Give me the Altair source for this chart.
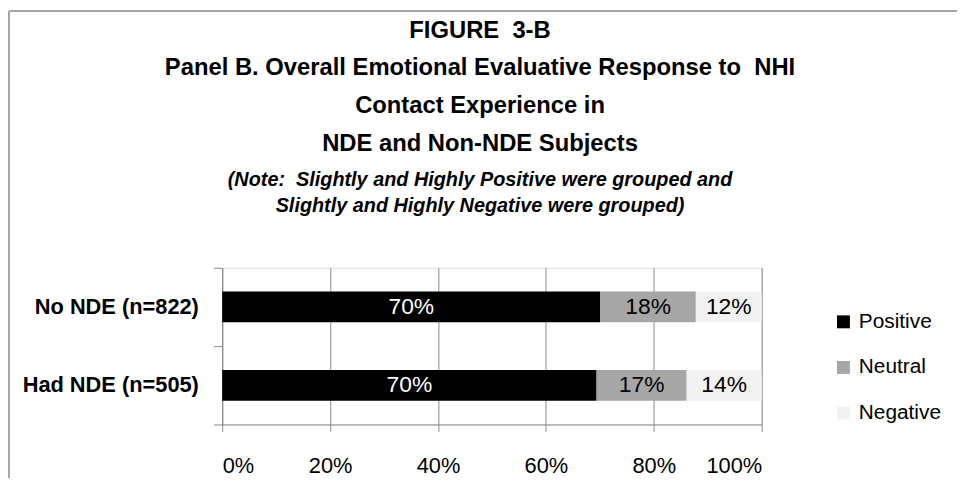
import altair as alt
import pandas as pd

# ---- data ----
groups = ["No NDE (n=822)", "Had NDE (n=505)"]
responses = ["Positive", "Neutral", "Negative"]
no_nde_values = [70.1, 17.7, 12.2]
had_nde_values = [69.4, 16.7, 13.9]
no_nde_labels = ["70%", "18%", "12%"]
had_nde_labels = ["70%", "17%", "14%"]
x_ticks = [0, 20, 40, 60, 80, 100]
colors = ["#000000", "#a6a6a6", "#f2f2f2"]

title_lines = [
    "FIGURE\u00a0 3-B",
    "Panel B. Overall Emotional Evaluative Response to\u00a0 NHI",
    "Contact Experience in",
    "NDE and Non-NDE Subjects",
]
note_lines = [
    "(Note:\u00a0 Slightly and Highly Positive were grouped and",
    "Slightly and Highly Negative were grouped)",
]

rows = []
for g, vals, labs in [(groups[0], no_nde_values, no_nde_labels),
                      (groups[1], had_nde_values, had_nde_labels)]:
    for i, (r, v, l) in enumerate(zip(responses, vals, labs)):
        rows.append({"group": g, "response": r, "value": v, "label": l, "order": i})
df = pd.DataFrame(rows)

FONT = "Liberation Sans"
GRID = "#8a8a8a"

base = alt.Chart(df).transform_stack(
    stack="value", as_=["v0", "v1"], groupby=["group"],
    sort=[alt.SortField("order", order="ascending")],
).transform_calculate(mid="(datum.v0 + datum.v1) / 2")

x_axis = alt.Axis(
    title=None, values=x_ticks, labelExpr="datum.value + '%'",
    labelFont=FONT, labelFontSize=22, labelColor="#000000",
    grid=True, gridColor=GRID, gridWidth=1,
    domainColor=GRID, tickColor=GRID, tickSize=7, labelPadding=24,
)
y_axis = alt.Axis(
    title=None, labelFont=FONT, labelFontSize=22, labelFontWeight="bold",
    labelColor="#000000", grid=False, domainColor=GRID, tickColor=GRID,
    tickSize=9, labelPadding=15, bandPosition=1, tickExtra=True,
)
y_enc = alt.Y("group:N", sort=groups, axis=y_axis,
              scale=alt.Scale(paddingInner=0, paddingOuter=0))

bars = base.mark_bar(size=31).encode(
    x=alt.X("v0:Q", scale=alt.Scale(domain=[0, 100]), axis=x_axis),
    x2="v1:Q",
    y=y_enc,
    color=alt.Color(
        "response:N",
        scale=alt.Scale(domain=responses, range=colors),
        legend=alt.Legend(
            title=None, orient="none", legendX=616, legendY=44,
            symbolType="square", symbolSize=170, symbolStrokeWidth=0,
            labelFont=FONT, labelFontSize=21, labelColor="#000000",
            labelOffset=5, rowPadding=24,
        ),
    ),
)

texts = base.mark_text(font=FONT, fontSize=23).encode(
    x="mid:Q",
    y=y_enc,
    text="label:N",
    color=alt.condition(alt.datum.response == "Positive",
                        alt.value("#ffffff"), alt.value("#000000")),
)

frame_df = pd.DataFrame({"k": [0]})
frame_top = alt.Chart(frame_df).mark_rule(color="#a6a6a6", strokeWidth=2).encode(
    x=alt.value(-215), x2=alt.value(760), y=alt.value(-259))
frame_left = alt.Chart(frame_df).mark_rule(color="#a6a6a6", strokeWidth=2).encode(
    x=alt.value(-215), y=alt.value(-259), y2=alt.value(240))

chart = alt.layer(bars, texts, frame_top, frame_left).properties(
    width=544,
    height=158,
    title=alt.TitleParams(
        text=title_lines,
        subtitle=note_lines,
        font=FONT, fontSize=24, fontWeight="bold", color="#000000",
        lineHeight=38,
        subtitleFont=FONT, subtitleFontSize=20, subtitleFontWeight="bold",
        subtitleFontStyle="italic", subtitleColor="#000000",
        subtitleLineHeight=26, subtitlePadding=15,
        anchor="middle", frame="group", dx=-12, offset=-208,
    ),
    autosize=alt.AutoSizeParams(type="none"),
    padding={"left": 216, "top": 260, "right": 197, "bottom": 52},
).configure_view(stroke=None).configure(background="#ffffff")

chart.save("out.html", embed_options={"renderer": "svg", "actions": False})
